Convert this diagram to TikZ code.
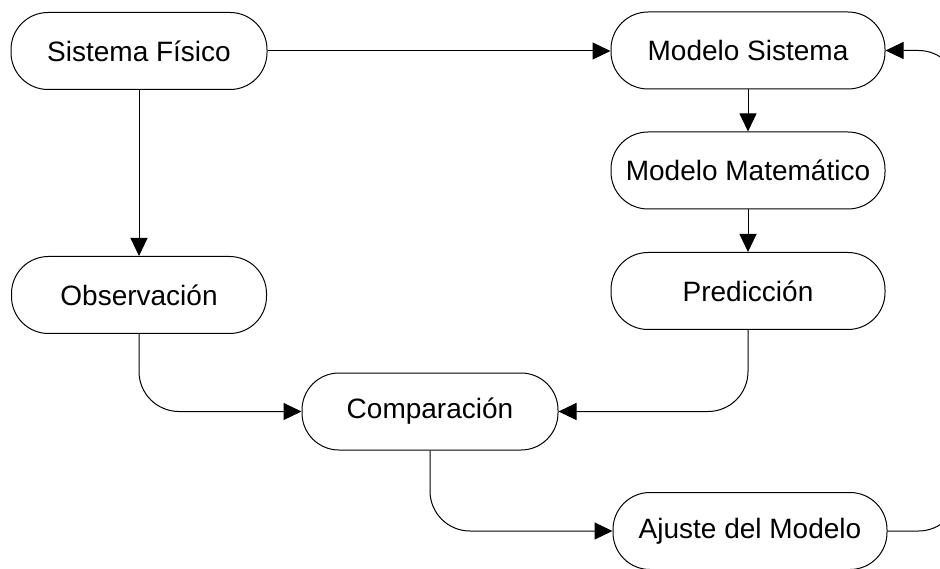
\documentclass[tikz,border=0pt]{standalone}
\usepackage{fontspec}
\setmainfont{Liberation Sans}
\usetikzlibrary{arrows.meta}
\begin{document}
\begin{tikzpicture}[x=1pt,y=-1pt,
  stage/.style={draw, line width=1pt, rounded corners=37pt, minimum height=77pt,
    inner sep=0pt, font=\fontsize{28}{33}\selectfont},
  link/.style={line width=1pt, -{Triangle[length=18pt,width=17pt]}},
  elbowlink/.style={link, rounded corners=40pt}]
  \clip (0,0) rectangle (940,569);

  % process stages
  \node[stage, minimum width=256pt] (sf) at (139,51)    {Sistema Físico};
  \node[stage, minimum width=274pt] (ms) at (748,50.5)  {Modelo Sistema};
  \node[stage, minimum width=274pt] (mm) at (748,170.5) {Modelo Matemático};
  \node[stage, minimum width=274pt] (pr) at (748,291)   {Predicción};
  \node[stage, minimum width=255pt] (ob) at (139,295)   {Observación};
  \node[stage, minimum width=256pt] (co) at (430,411.5) {Comparación};
  \node[stage, minimum width=274pt] (aj) at (750,531)   {Ajuste del Modelo};

  % flow between stages
  \draw[link] (sf.east) -- (sf.east -| ms.west);
  \draw[link] (sf.south) -- (ob.north);
  \draw[link] (ms.south) -- (mm.north);
  \draw[link] (mm.south) -- (pr.north);
  \draw[elbowlink] (ob.south) |- (co.west);
  \draw[elbowlink] (pr.south) |- (co.east);
  \draw[elbowlink] (co.south) |- (aj.west);

  % feedback loop back to the system model
  \coordinate (loop) at ([xshift=71pt]aj.east);
  \draw[elbowlink] (aj.east) -- (loop) |- (ms.east);
\end{tikzpicture}
\end{document}
